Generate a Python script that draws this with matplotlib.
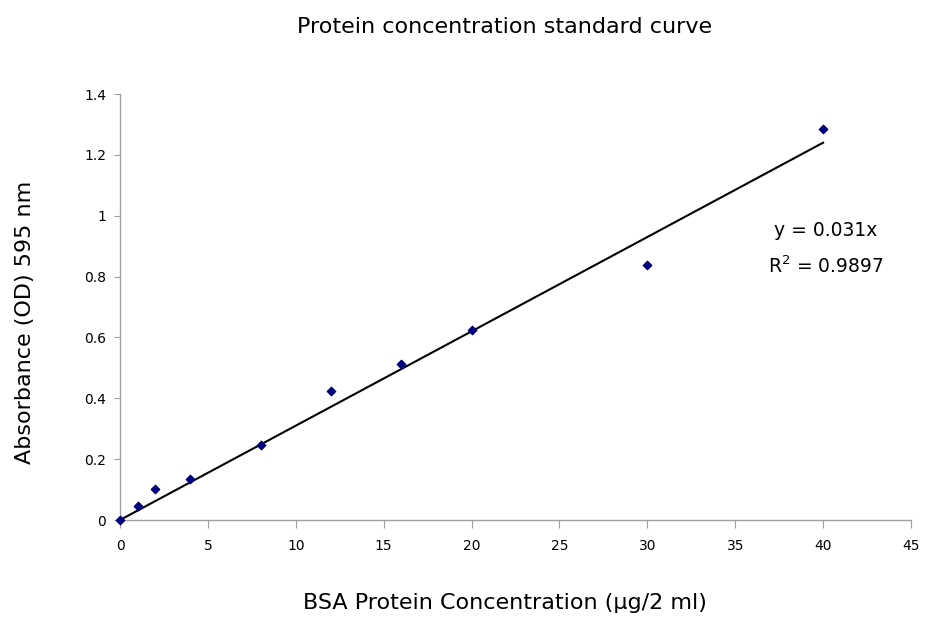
import matplotlib
matplotlib.use("Agg")
import matplotlib.pyplot as plt
import numpy as np

conc = [0, 1, 2, 4, 8, 12, 16, 20, 30, 40]
absorb = [0.0, 0.047, 0.102, 0.135, 0.245, 0.423, 0.513, 0.623, 0.838, 1.284]
slope = 0.031
x_ticks = [0, 5, 10, 15, 20, 25, 30, 35, 40, 45]
y_ticks = [0, 0.2, 0.4, 0.6, 0.8, 1.0, 1.2, 1.4]
y_tick_labels = ["0", "0.2", "0.4", "0.6", "0.8", "1", "1.2", "1.4"]

plt.rcParams['font.family'] = ['DejaVu Sans']
plt.rcParams['mathtext.fontset'] = 'dejavusans'

fig = plt.figure(figsize=(9.26, 6.44), dpi=100)
ax = fig.add_axes([120/926, 1-520/644, (911-120)/926, (520-94)/644])

fit_x = np.array([0, 40])
ax.plot(fit_x, slope*fit_x, color='black', lw=1.5, zorder=2)
ax.scatter(conc, absorb, marker='D', s=18, color='#000080', zorder=3, clip_on=False)

ax.set_xlim(0, 45)
ax.set_ylim(0, 1.4)
ax.set_xticks(x_ticks)
ax.set_xticklabels([str(t) for t in x_ticks])
ax.set_yticks(y_ticks)
ax.set_yticklabels(y_tick_labels)
for s in ['top', 'right']:
    ax.spines[s].set_visible(False)
for s in ['left', 'bottom']:
    ax.spines[s].set_color('#a0a0a0')
    ax.spines[s].set_linewidth(1)
ax.tick_params(axis='x', direction='out', length=6, color='#a0a0a0', labelsize=10, pad=8)
ax.tick_params(axis='y', direction='out', length=4, color='#a0a0a0', labelsize=10, pad=6)

fig.text(505/926, 1-27/644, "Protein concentration standard curve", ha='center', va='center', fontsize=16)
fig.text(25/926, 1-322/644, "Absorbance (OD) 595 nm", rotation=90, ha='center', va='center', fontsize=16)
fig.text(505/926, 1-603/644, "BSA Protein Concentration (µg/2 ml)", ha='center', va='center', fontsize=16)

fig.text(826/926, 1-231/644, "y = 0.031x", ha='center', va='center', fontsize=13.5)
fig.text(826/926, 1-266/644, "R$^2$ = 0.9897", ha='center', va='center', fontsize=13.5)

fig.savefig("out.png", dpi=100)
